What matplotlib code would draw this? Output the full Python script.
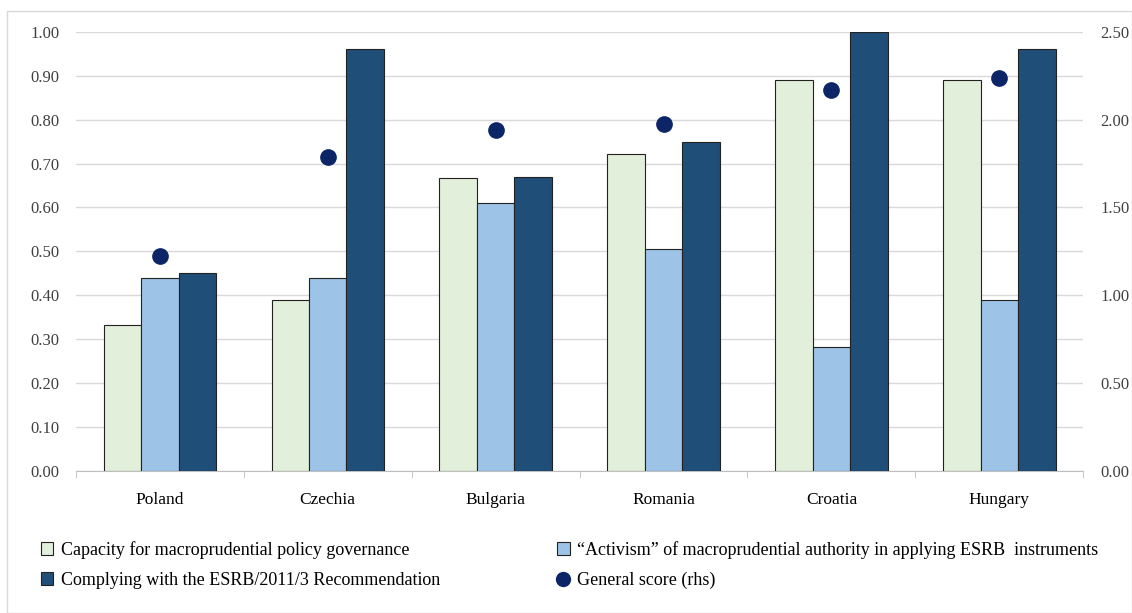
import numpy as np
import matplotlib.pyplot as plt
from matplotlib.patches import Rectangle, Patch
from matplotlib.lines import Line2D

# data
countries = ['Poland', 'Czechia', 'Bulgaria', 'Romania', 'Croatia', 'Hungary']
capacity = [0.333, 0.390, 0.667, 0.721, 0.891, 0.891]
activism = [0.440, 0.440, 0.610, 0.505, 0.283, 0.390]
complying = [0.450, 0.961, 0.670, 0.750, 1.000, 0.961]
general_score = [1.225, 1.786, 1.943, 1.974, 2.170, 2.236]

labels = ['Capacity for macroprudential policy governance',
          '\u201cActivism\u201d of macroprudential authority in applying ESRB  instruments',
          'Complying with the ESRB/2011/3 Recommendation',
          'General score (rhs)']

c_green = '#E2EFDA'
c_blue = '#9DC3E6'
c_dark = '#1F4E79'
c_dot = '#0B2566'

plt.rcParams['font.family'] = ['Liberation Serif', 'DejaVu Serif']

fig = plt.figure(figsize=(11.32, 6.13), dpi=100)
ax = fig.add_axes([0.067, 0.232, 0.89, 0.716])
ax2 = ax.twinx()

x = np.arange(len(countries))
w = 0.223
ax.bar(x - w, capacity, w, color=c_green, edgecolor='#222222', lw=0.8, zorder=3)
ax.bar(x, activism, w, color=c_blue, edgecolor='#222222', lw=0.8, zorder=3)
ax.bar(x + w, complying, w, color=c_dark, edgecolor='#222222', lw=0.8, zorder=3)
ax2.plot(x, general_score, ls='none', marker='o', ms=11, color=c_dot, zorder=4)

ax.set_xlim(-0.5, len(countries) - 0.5)
ax.set_ylim(0, 1.0)
ax2.set_ylim(0, 2.5)
ax.set_yticks(np.arange(0, 1.01, 0.1))
ax.set_yticklabels(['%.2f' % v for v in np.arange(0, 1.01, 0.1)])
ax2.set_yticks(np.arange(0, 2.51, 0.5))
ax2.set_yticklabels(['%.2f' % v for v in np.arange(0, 2.51, 0.5)])
ax.yaxis.grid(True, color='#D9D9D9', lw=1, zorder=0)
ax.set_axisbelow(True)

ax.set_xticks(x)
ax.set_xticklabels(countries)
ax.set_xticks(np.arange(-0.5, len(countries), 1), minor=True)
ax.tick_params(axis='x', which='major', length=0, pad=15, labelsize=12.5)
ax.tick_params(axis='x', which='minor', length=5, color='#BFBFBF')
ax.tick_params(axis='y', length=0, labelsize=12, colors='#404040', pad=12)
ax2.tick_params(axis='y', length=0, labelsize=12, colors='#404040', pad=12)

for a in (ax, ax2):
    for s in a.spines.values():
        s.set_visible(False)
ax.spines['bottom'].set_visible(True)
ax.spines['bottom'].set_color('#BFBFBF')

# outer frame
fig.patches.append(Rectangle((0.006, 0.0), 0.994, 0.982, transform=fig.transFigure,
                             fill=False, edgecolor='#D9D9D9', lw=1))

handles = [Patch(facecolor=c_green, edgecolor='#222222', lw=0.8),
           Patch(facecolor=c_blue, edgecolor='#222222', lw=0.8),
           Patch(facecolor=c_dark, edgecolor='#222222', lw=0.8),
           Line2D([], [], ls='none', marker='o', ms=10, color=c_dot)]
leg_kw = dict(loc='upper left', frameon=False, fontsize=13, handlelength=0.7,
              handleheight=0.7, handletextpad=0.4, labelspacing=0.75,
              borderpad=0, borderaxespad=0)
leg1 = fig.legend([handles[0], handles[2]], [labels[0], labels[2]],
                  bbox_to_anchor=(0.036, 0.118), **leg_kw)
leg2 = fig.legend([handles[1], handles[3]], [labels[1], labels[3]],
                  bbox_to_anchor=(0.492, 0.118), **leg_kw)

fig.savefig('out.png', dpi=100)
